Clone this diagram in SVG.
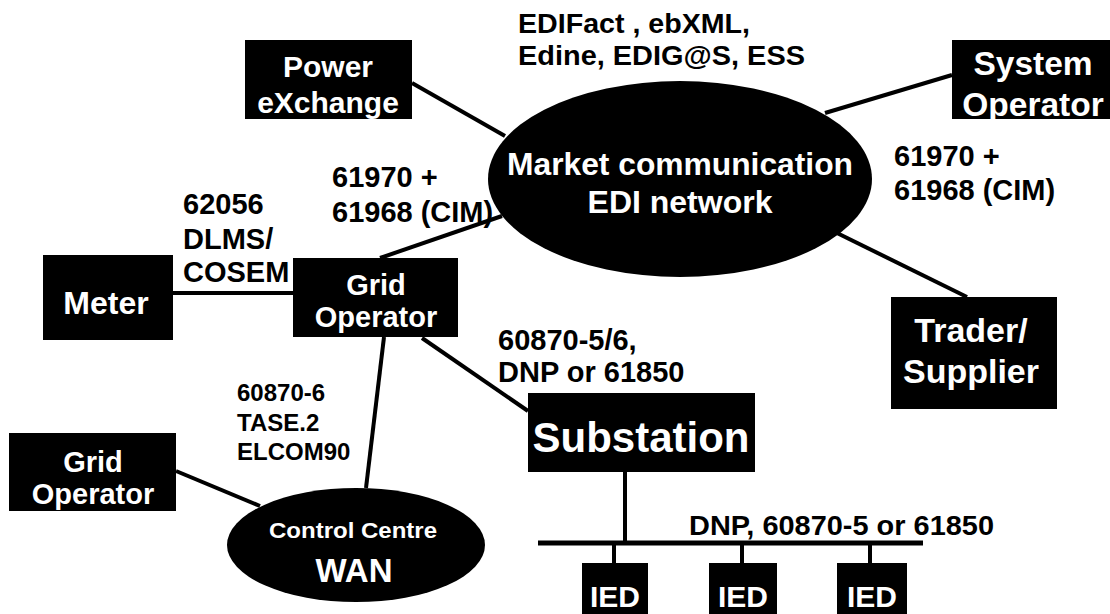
<svg xmlns="http://www.w3.org/2000/svg" width="1110" height="614" viewBox="0 0 1110 614">
  <style>
    .box { fill: #000; }
    .conn { stroke: #000; stroke-width: 4; fill: none; }
    .bus { stroke: #000; stroke-width: 5; fill: none; }
    .t { font-family: "Liberation Sans", Arial, sans-serif; font-weight: bold; }
    .w { fill: #fff; text-anchor: middle; }
    .k { fill: #000; }
  </style>
  <rect width="1110" height="614" fill="#fff"/>

  <!-- connectors -->
  <g id="connectors">
    <line class="conn" x1="412" y1="83" x2="505" y2="136"/>
    <line class="conn" x1="825" y1="113" x2="952" y2="75"/>
    <line class="conn" x1="837" y1="233" x2="967" y2="297"/>
    <line class="conn" x1="380" y1="258" x2="502" y2="216"/>
    <line class="conn" x1="173" y1="293" x2="293" y2="293"/>
    <line class="conn" x1="422" y1="338" x2="528" y2="411"/>
    <line class="conn" x1="384" y1="337" x2="366" y2="488"/>
    <line class="conn" x1="176" y1="471" x2="260" y2="506"/>
    <line class="conn" x1="625" y1="472" x2="625" y2="543"/>
    <line class="bus" x1="538" y1="543" x2="923" y2="543"/>
    <line class="conn" x1="614" y1="543" x2="614" y2="563"/>
    <line class="conn" x1="742" y1="543" x2="742" y2="563"/>
    <line class="conn" x1="870" y1="543" x2="870" y2="563"/>
  </g>

  <!-- protocol labels -->
  <g id="labels" class="t k">
    <text x="518" y="33" font-size="28.5" textLength="232" lengthAdjust="spacingAndGlyphs">EDIFact , ebXML,</text>
    <text x="518" y="65" font-size="28.5" textLength="287" lengthAdjust="spacingAndGlyphs">Edine, EDIG@S, ESS</text>
    <text x="894" y="166" font-size="29">61970 +</text>
    <text x="894" y="200" font-size="29">61968 (CIM)</text>
    <text x="332" y="187" font-size="29">61970 +</text>
    <text x="332" y="222" font-size="29">61968 (CIM)</text>
    <text x="183" y="214" font-size="29">62056</text>
    <text x="183" y="249" font-size="29">DLMS/</text>
    <text x="183" y="282" font-size="29">COSEM</text>
    <text x="498" y="350" font-size="29">60870-5/6,</text>
    <text x="498" y="382" font-size="29">DNP or 61850</text>
    <text x="237" y="401" font-size="24">60870-6</text>
    <text x="237" y="431" font-size="24">TASE.2</text>
    <text x="237" y="460" font-size="24">ELCOM90</text>
    <text x="689" y="535" font-size="28.5" textLength="305" lengthAdjust="spacingAndGlyphs">DNP, 60870-5 or 61850</text>
  </g>

  <g id="market-network">
    <ellipse class="box" cx="680" cy="179" rx="192" ry="98"/>
    <text class="t w" x="680" y="175" font-size="32" textLength="346" lengthAdjust="spacingAndGlyphs">Market communication</text>
    <text class="t w" x="680" y="213" font-size="32">EDI network</text>
  </g>

  <g id="power-exchange">
    <rect class="box" x="245" y="40" width="167" height="79"/>
    <text class="t w" x="328" y="77" font-size="30">Power</text>
    <text class="t w" x="328" y="113" font-size="30">eXchange</text>
  </g>

  <g id="system-operator">
    <rect class="box" x="952" y="40" width="162" height="79"/>
    <text class="t w" x="1033" y="75" font-size="33.5">System</text>
    <text class="t w" x="1033" y="116" font-size="33.5">Operator</text>
  </g>

  <g id="trader-supplier">
    <rect class="box" x="891" y="297" width="166" height="112"/>
    <text class="t w" x="971" y="342" font-size="34">Trader/</text>
    <text class="t w" x="971" y="383" font-size="34">Supplier</text>
  </g>

  <g id="meter">
    <rect class="box" x="43" y="255" width="130" height="85"/>
    <text class="t w" x="106" y="314" font-size="32">Meter</text>
  </g>

  <g id="grid-operator">
    <rect class="box" x="293" y="258" width="165" height="79"/>
    <text class="t w" x="376" y="295" font-size="29">Grid</text>
    <text class="t w" x="376" y="327" font-size="29">Operator</text>
  </g>

  <g id="substation">
    <rect class="box" x="528" y="393" width="227" height="79"/>
    <text class="t w" x="641" y="452" font-size="42">Substation</text>
  </g>

  <g id="grid-operator-2">
    <rect class="box" x="9" y="433" width="167" height="78"/>
    <text class="t w" x="93" y="472" font-size="29">Grid</text>
    <text class="t w" x="93" y="504" font-size="29">Operator</text>
  </g>

  <g id="control-centre">
    <ellipse class="box" cx="356" cy="545" rx="129" ry="57"/>
    <text class="t w" x="353" y="538" font-size="22" textLength="168" lengthAdjust="spacingAndGlyphs">Control Centre</text>
    <text class="t w" x="354" y="582" font-size="33">WAN</text>
  </g>

  <g id="ied-1">
    <rect class="box" x="582" y="563" width="66" height="60"/>
    <text class="t w" x="615" y="607" font-size="30">IED</text>
  </g>
  <g id="ied-2">
    <rect class="box" x="709" y="563" width="68" height="60"/>
    <text class="t w" x="743" y="607" font-size="30">IED</text>
  </g>
  <g id="ied-3">
    <rect class="box" x="837" y="563" width="70" height="60"/>
    <text class="t w" x="872" y="607" font-size="30">IED</text>
  </g>
</svg>
